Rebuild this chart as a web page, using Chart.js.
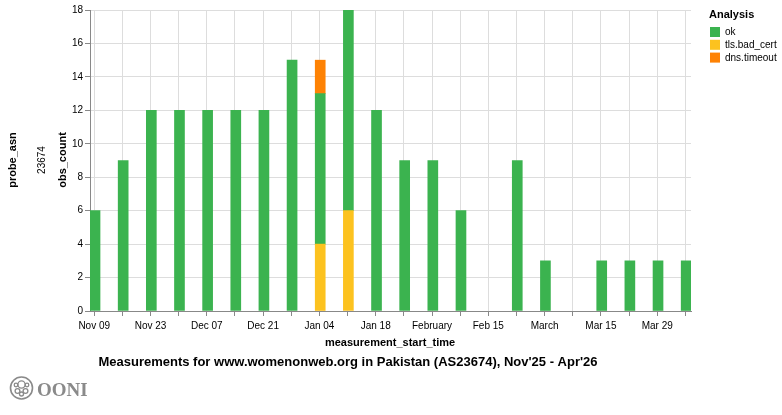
<!DOCTYPE html>
<html>
<head>
<meta charset="utf-8">
<script src="https://cdn.jsdelivr.net/npm/chart.js@4.4.1/dist/chart.umd.min.js"></script>
<style>
  html, body { margin: 0; padding: 0; background: #fff; }
  #wrap { position: relative; width: 782px; height: 415px; }
  canvas { display: block; }
</style>
</head>
<body>
<div id="wrap"><canvas id="c" width="782" height="415"></canvas></div>
<script>
// ---------------- DATA ----------------
const weekStarts = [
  '2025-11-09','2025-11-16','2025-11-23','2025-11-30','2025-12-07','2025-12-14',
  '2025-12-21','2025-12-28','2026-01-04','2026-01-11','2026-01-18','2026-01-25',
  '2026-02-01','2026-02-08','2026-02-15','2026-02-22','2026-03-01','2026-03-08',
  '2026-03-15','2026-03-22','2026-03-29','2026-04-05'
];
const okCounts      = [6, 9, 12, 12, 12, 12, 12, 15, 9, 12, 12, 9, 9, 6, 0, 9, 3, 0, 3, 3, 3, 3];
const tlsBadCert    = [0, 0, 0, 0, 0, 0, 0, 0, 4, 6, 0, 0, 0, 0, 0, 0, 0, 0, 0, 0, 0, 0];
const dnsTimeout    = [0, 0, 0, 0, 0, 0, 0, 0, 2, 0, 0, 0, 0, 0, 0, 0, 0, 0, 0, 0, 0, 0];

const seriesNames  = ['ok', 'tls.bad_cert', 'dns.timeout'];
const seriesColors = ['#3bb34f', '#fcc21f', '#fe8204'];

const xTickDates  = [
  '2025-11-09','2025-11-16','2025-11-23','2025-11-30','2025-12-07','2025-12-14',
  '2025-12-21','2025-12-28','2026-01-04','2026-01-11','2026-01-18','2026-01-25',
  '2026-02-01','2026-02-08','2026-02-15','2026-02-22','2026-03-01','2026-03-08',
  '2026-03-15','2026-03-22','2026-03-29','2026-04-05'
];
const xTickLabels = [
  'Nov 09','','Nov 23','','Dec 07','','Dec 21','','Jan 04','','Jan 18','',
  'February','','Feb 15','','March','','Mar 15','','Mar 29',''
];
const yTicks = [0, 2, 4, 6, 8, 10, 12, 14, 16, 18];

const facetTitle = 'probe_asn';
const facetLabel = '23674';
const xTitle = 'measurement_start_time';
const yTitle = 'obs_count';
const legendTitle = 'Analysis';
const chartTitle = "Measurements for www.womenonweb.org in Pakistan (AS23674), Nov'25 - Apr'26";

// ---------------- HELPERS ----------------
const BASE = Date.UTC(2025, 10, 9);
function dayOf(s) {
  const [y, m, d] = s.split('-').map(Number);
  return (Date.UTC(y, m - 1, d) - BASE) / 864e5;
}
const FONT = "'Liberation Sans', Arial, Helvetica, sans-serif";
const BAR_SHIFT = 0.2;      // bar centre offset (days) relative to week tick
const X_MIN = -1.05, X_MAX = 148.4;

const tickDays = xTickDates.map(dayOf);
const tickLabelByDay = {};
tickDays.forEach((d, i) => { tickLabelByDay[d] = xTickLabels[i]; });

function makeData(arr) {
  const out = [];
  arr.forEach((v, i) => { if (v) out.push({ x: dayOf(weekStarts[i]) + BAR_SHIFT, y: v }); });
  return out;
}

// stacking order: tls (bottom), ok, dns (top)
const datasets = [
  { label: seriesNames[1], data: makeData(tlsBadCert), backgroundColor: seriesColors[1] },
  { label: seriesNames[0], data: makeData(okCounts),   backgroundColor: seriesColors[0] },
  { label: seriesNames[2], data: makeData(dnsTimeout), backgroundColor: seriesColors[2] }
].map(d => Object.assign(d, { barThickness: 10, borderWidth: 0 }));

// ---------------- EXTRA DRAWING ----------------
const extras = {
  id: 'extras',
  afterDraw(chart) {
    const c = chart.ctx;
    c.save();
    c.fillStyle = '#000';
    c.textBaseline = 'middle';

    function rotText(txt, x, y, font) {
      c.save();
      c.translate(x, y);
      c.rotate(-Math.PI / 2);
      c.font = font;
      c.textAlign = 'center';
      c.fillText(txt, 0, 0);
      c.restore();
    }
    rotText(facetTitle, 13, 160, 'bold 11px ' + FONT);
    rotText(facetLabel, 42, 160, '10px ' + FONT);
    rotText(yTitle, 63, 160, 'bold 11px ' + FONT);

    c.font = 'bold 11px ' + FONT;
    c.textAlign = 'center';
    c.fillText(xTitle, 390, 343);

    c.font = 'bold 13px ' + FONT;
    c.textAlign = 'center';
    c.fillText(chartTitle, 348, 362);

    // legend
    c.textAlign = 'left';
    c.font = 'bold 11px ' + FONT;
    c.fillText(legendTitle, 709, 15);
    c.font = '10px ' + FONT;
    [0, 1, 2].forEach((k, i) => {
      const y = 32 + i * 12.8;
      c.fillStyle = seriesColors[k];
      c.fillRect(710, y - 5, 10, 10);
      c.fillStyle = '#000';
      c.fillText(seriesNames[k], 725, y + 0.5);
    });

    // OONI logo
    const gx = 21.5, gy = 388;
    c.strokeStyle = '#8a8a8a';
    c.lineWidth = 1.6;
    c.beginPath(); c.arc(gx, gy, 11, 0, Math.PI * 2); c.stroke();
    c.lineWidth = 1.3;
    c.beginPath(); c.arc(gx, gy - 3.5, 3.6, 0, Math.PI * 2); c.stroke();
    c.beginPath(); c.arc(gx - 4, gy + 3, 2.4, 0, Math.PI * 2); c.stroke();
    c.beginPath(); c.arc(gx + 4, gy + 3, 2.4, 0, Math.PI * 2); c.stroke();
    c.beginPath(); c.arc(gx, gy + 6, 2, 0, Math.PI * 2); c.stroke();
    c.beginPath(); c.arc(gx - 5.5, gy - 3, 1.8, 0, Math.PI * 2); c.stroke();
    c.beginPath(); c.arc(gx + 5.5, gy - 3, 1.8, 0, Math.PI * 2); c.stroke();
    c.fillStyle = '#8a8a8a';
    c.font = "bold 19px 'Liberation Serif', 'DejaVu Serif', serif";
    c.textAlign = 'left';
    c.textBaseline = 'alphabetic';
    c.fillText('OONI', 37, 396);

    c.restore();
  }
};

// ---------------- CHART ----------------
Chart.defaults.font.family = FONT;
new Chart(document.getElementById('c'), {
  type: 'bar',
  data: { datasets },
  plugins: [extras],
  options: {
    responsive: false,
    animation: false,
    layout: { padding: { top: 10, right: 91, bottom: 74, left: 0 } },
    plugins: { legend: { display: false }, tooltip: { enabled: false } },
    scales: {
      x: {
        type: 'linear',
        offset: false,
        min: X_MIN,
        max: X_MAX,
        stacked: true,
        afterBuildTicks: s => { s.ticks = tickDays.map(v => ({ value: v })); },
        afterFit: s => { s.height = 30; },
        grid: { offset: false, color: '#dddddd', tickColor: '#888888', tickLength: 5, lineWidth: 1 },
        border: { color: '#888888', width: 1 },
        ticks: {
          autoSkip: false, maxRotation: 0, minRotation: 0, padding: 4,
          color: '#000', font: { size: 10 },
          callback: v => (tickLabelByDay[v] !== undefined ? tickLabelByDay[v] : '')
        }
      },
      y: {
        min: yTicks[0],
        max: yTicks[yTicks.length - 1],
        stacked: true,
        afterBuildTicks: s => { s.ticks = yTicks.map(v => ({ value: v })); },
        afterFit: s => { s.width = 90; },
        grid: { color: '#dddddd', tickColor: '#888888', tickLength: 5, lineWidth: 1 },
        border: { color: '#888888', width: 1 },
        ticks: { padding: 2, color: '#000', font: { size: 10 } }
      }
    }
  }
});
</script>
</body>
</html>
